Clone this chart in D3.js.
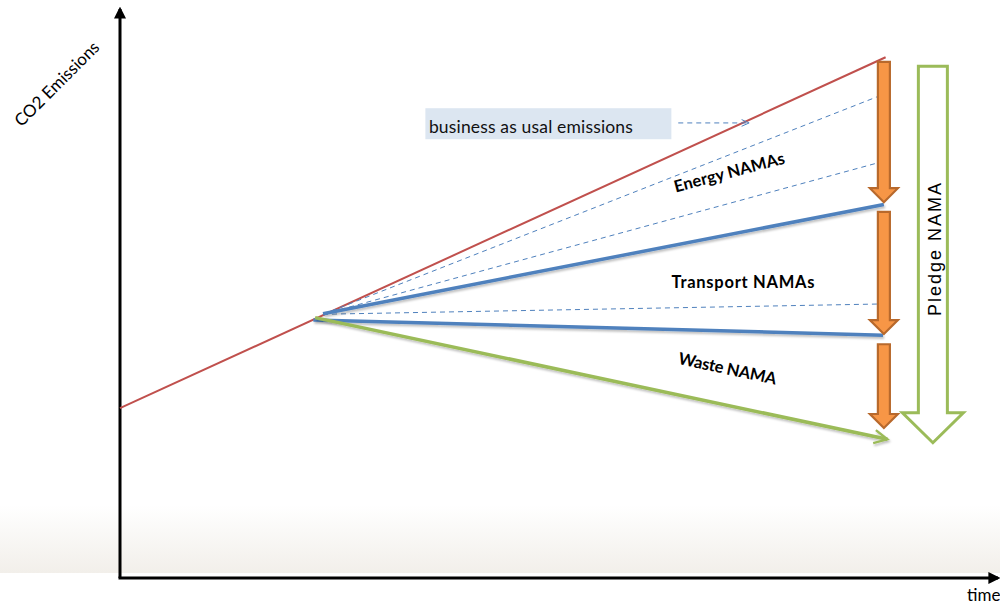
<!DOCTYPE html>
<html>
<head>
<meta charset="utf-8">
<script src="https://cdn.jsdelivr.net/npm/d3@7/dist/d3.min.js"></script>
<style>
  html, body { margin: 0; padding: 0; background: #ffffff; }
  svg { display: block; }
</style>
</head>
<body>
<svg id="chart" width="1000" height="603"></svg>
<script>
// Emission pathways (time units 0-100, emission units 0-100)
const bauLine = [[0, 30.0], [87.5, 92.0]];
const dashedStarts = [23.2, 46.6];
const dashedEnds = [[86.5, 85.0], [86.5, 73.3], [86.5, 48.4]];
const energyPath = [[23.2, 46.7], [87.3, 66.0]];
const transportPath = [[22.1, 45.6], [87.2, 42.9]];
const wastePath = [[22.3, 46.0], [87.7, 24.5]];

// Reduction arrows between pathways
const reductionX = 87.3;
const reductionNames = ["Energy NAMAs", "Transport NAMAs", "Waste NAMA"];
const reductionTops = [91.2, 64.7, 41.3];
const reductionBottoms = [66.4, 43.1, 26.5];

// Label anchors, angles and widths
const labelPos = [[69.8, 70.7], [71.2, 51.3], [69.3, 36.0]];
const labelAngles = [-14.8, 0, 12];
const labelWidths = [114, 143, 100];

// Overall pledge arrow
const pledgeX = 92.9;
const pledgeTop = 90.4;
const pledgeBottom = 23.9;

const svg = d3.select("#chart");
const W = 1000;

const x = d3.scaleLinear().domain([0, 100]).range([120, 995]);
const y = d3.scaleLinear().domain([0, 100]).range([578, 12]);

const defs = svg.append("defs");

// soft band along the bottom of the page
const grad = defs.append("linearGradient").attr("id", "bottomBand")
  .attr("x1", 0).attr("y1", 0).attr("x2", 0).attr("y2", 1);
grad.append("stop").attr("offset", "0%").attr("stop-color", "#ffffff");
grad.append("stop").attr("offset", "100%").attr("stop-color", "#f2efea");
svg.append("rect").attr("x", 0).attr("y", 505).attr("width", W).attr("height", 68)
  .attr("fill", "url(#bottomBand)");

// subtle shadow for thick lines
const sh = defs.append("filter").attr("id", "shadow")
  .attr("x", "-5%").attr("y", "-50%").attr("width", "110%").attr("height", "200%");
sh.append("feDropShadow").attr("dx", 1).attr("dy", 2).attr("stdDeviation", 1.2)
  .attr("flood-color", "#000").attr("flood-opacity", 0.25);

// arrow markers
defs.append("marker").attr("id", "axisHead")
  .attr("viewBox", "0 0 10 10").attr("refX", 8).attr("refY", 5)
  .attr("markerWidth", 4).attr("markerHeight", 4).attr("markerUnits", "strokeWidth")
  .attr("orient", "auto")
  .append("path").attr("d", "M0,0 L10,5 L0,10 Z").attr("fill", "#000");

defs.append("marker").attr("id", "greenHead")
  .attr("viewBox", "0 0 12 12").attr("refX", 10).attr("refY", 6)
  .attr("markerWidth", 5).attr("markerHeight", 5).attr("markerUnits", "strokeWidth")
  .attr("orient", "auto")
  .append("path").attr("d", "M1,1.5 L10,6 L1,10.5")
  .attr("fill", "none").attr("stroke", "#9bbb59").attr("stroke-width", 1.6);

defs.append("marker").attr("id", "dashHead")
  .attr("viewBox", "0 0 12 12").attr("refX", 10).attr("refY", 6)
  .attr("markerWidth", 10).attr("markerHeight", 10).attr("markerUnits", "userSpaceOnUse")
  .attr("orient", "auto")
  .append("path").attr("d", "M1,2 L10,6 L1,10")
  .attr("fill", "none").attr("stroke", "#4f81bd").attr("stroke-width", 1.2);

const line = d3.line().x(d => x(d[0])).y(d => y(d[1]));
const FONT = "Lato, 'Open Sans', sans-serif";

// axes
svg.append("line")
  .attr("x1", x(0)).attr("y1", y(0)).attr("x2", x(0)).attr("y2", y(100) - 3)
  .attr("stroke", "#000").attr("stroke-width", 3).attr("marker-end", "url(#axisHead)");
svg.append("line")
  .attr("x1", x(0) - 1.5).attr("y1", y(0)).attr("x2", x(100) + 3).attr("y2", y(0))
  .attr("stroke", "#000").attr("stroke-width", 3).attr("marker-end", "url(#axisHead)");

svg.append("text")
  .attr("transform", `translate(${x(0) - 59},${y(0) - 490}) rotate(-45)`)
  .attr("text-anchor", "middle")
  .attr("font-family", FONT).attr("font-size", 17)
  .attr("fill", "#000").text("CO2 Emissions");

svg.append("text")
  .attr("x", 967).attr("y", 601)
  .attr("font-family", FONT).attr("font-size", 17)
  .attr("fill", "#000").text("time");

// business-as-usual pathway
svg.append("path").datum(bauLine).attr("d", line)
  .attr("fill", "none").attr("stroke", "#c0504d").attr("stroke-width", 2);

// dashed intermediate pathways
svg.selectAll("path.dash").data(dashedEnds).join("path").attr("class", "dash")
  .attr("d", d => line([dashedStarts, d]))
  .attr("fill", "none").attr("stroke", "#4f81bd").attr("stroke-width", 1)
  .attr("stroke-dasharray", "5,4");

// sector pathways
[energyPath, transportPath].forEach(p => {
  svg.append("path").datum(p).attr("d", line)
    .attr("fill", "none").attr("stroke", "#4f81bd").attr("stroke-width", 3.5)
    .attr("filter", "url(#shadow)");
});
svg.append("path").datum(wastePath).attr("d", line)
  .attr("fill", "none").attr("stroke", "#9bbb59").attr("stroke-width", 3.5)
  .attr("filter", "url(#shadow)").attr("marker-end", "url(#greenHead)");

// annotation box
const boxG = svg.append("g");
boxG.append("rect")
  .attr("x", x(34.9)).attr("y", y(83.0)).attr("width", 246).attr("height", 31)
  .attr("fill", "#dce6f1");
boxG.append("text")
  .attr("x", x(35.3)).attr("y", y(78.6))
  .attr("font-family", FONT).attr("font-size", 17.5)
  .attr("textLength", 204)
  .attr("fill", "#111").text("business as usal emissions");
boxG.append("line")
  .attr("x1", x(63.8)).attr("y1", y(80.4)).attr("x2", x(71.9)).attr("y2", y(80.4))
  .attr("stroke", "#4f81bd").attr("stroke-width", 1).attr("stroke-dasharray", "5,4")
  .attr("marker-end", "url(#dashHead)");

// orange block arrows
function blockArrow(cx, top, tip, shaftW, headW, headH) {
  const hs = shaftW / 2, hh = headW / 2;
  return `M${cx - hs},${top} L${cx + hs},${top} L${cx + hs},${tip - headH} ` +
         `L${cx + hh},${tip - headH} L${cx},${tip} L${cx - hh},${tip - headH} ` +
         `L${cx - hs},${tip - headH} Z`;
}
const reductions = reductionNames.map((n, i) => ({
  name: n, top: reductionTops[i], bottom: reductionBottoms[i]
}));
svg.selectAll("path.red").data(reductions).join("path").attr("class", "red")
  .attr("d", d => blockArrow(x(reductionX), y(d.top), y(d.bottom), 12, 28, 14))
  .attr("fill", "#f79646").attr("stroke", "#b8692c").attr("stroke-width", 2.2)
  .attr("stroke-linejoin", "miter");

// pledge arrow
svg.append("path")
  .attr("d", blockArrow(x(pledgeX), y(pledgeTop), y(pledgeBottom), 29, 61, 30))
  .attr("fill", "#ffffff").attr("stroke", "#9bbb59").attr("stroke-width", 3);
svg.append("text")
  .attr("transform", `translate(${x(pledgeX) + 8},${y(58.2)}) rotate(-90)`)
  .attr("text-anchor", "middle")
  .attr("font-family", "'Liberation Sans', Arial, sans-serif").attr("font-size", 18)
  .attr("letter-spacing", 2)
  .attr("fill", "#000").text("Pledge NAMA");

// sector labels
svg.selectAll("text.lab").data(reductionNames).join("text").attr("class", "lab")
  .attr("transform", (d, i) =>
    `translate(${x(labelPos[i][0])},${y(labelPos[i][1])}) rotate(${labelAngles[i]})`)
  .attr("text-anchor", "middle")
  .attr("font-family", FONT).attr("font-size", 16.5)
  .attr("font-weight", "bold").attr("fill", "#000")
  .attr("textLength", (d, i) => labelWidths[i])
  .text(d => d);
</script>
</body>
</html>
